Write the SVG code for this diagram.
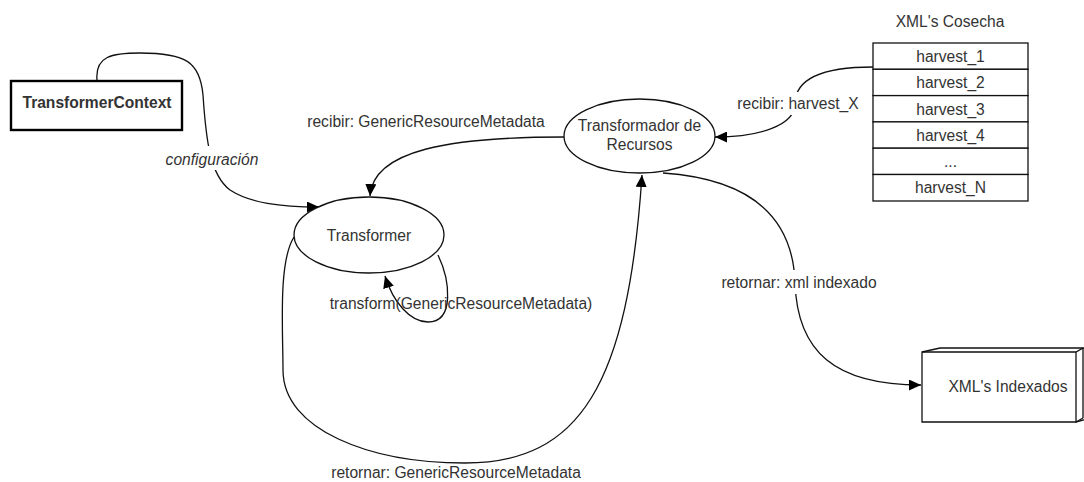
<svg xmlns="http://www.w3.org/2000/svg" width="1084" height="482" viewBox="0 0 1084 482">
<defs>
<style>
text{font-family:"Liberation Sans",Arial,sans-serif;font-size:15.6px;fill:#333;text-anchor:middle}
.ln{fill:none;stroke:#111;stroke-width:1.3}
.shape{fill:#fff;stroke:#111;stroke-width:1.3}
.bg{fill:#fff;stroke:none}
</style>
<marker id="arr" viewBox="0 0 12 11" refX="12" refY="5.5" markerWidth="12" markerHeight="11" orient="auto" markerUnits="userSpaceOnUse">
<path d="M0,0 L12,5.5 L0,11 z" fill="#000"/>
</marker>
</defs>
<rect width="1084" height="482" fill="#fff"/>

<g id="connectors">
<path class="ln" d="M97,80 C95,56 112,53 140,53 C186,53 200,62 203,95 C206,140 210,175 230,190 C250,203 280,207 319,207" marker-end="url(#arr)"/>
<path class="ln" d="M564,137 C450,137 373,150 370,196" marker-end="url(#arr)"/>
<path class="ln" d="M294,237 C278,262 283,330 283,370 C283,430 370,463 465,463 C580,463 628,385 642,175" marker-end="url(#arr)"/>
<path class="ln" d="M438,255 C450,280 455,322 428,322 C410,322 393,302 385,276" marker-end="url(#arr)"/>
<path class="ln" d="M873,67 C805,67 795,88 795,104 C795,125 760,137 715,137" marker-end="url(#arr)"/>
<path class="ln" d="M663,173 C765,180 793,230 795,282 C797,352 835,385 921,385" marker-end="url(#arr)"/>
<rect class="bg" x="160" y="146" width="105" height="24"/>
<rect class="bg" x="735" y="92" width="127" height="23"/>
<rect class="bg" x="719" y="270" width="160" height="24"/>
<text x="212" y="165" font-style="italic">configuración</text>
<text x="426" y="127">recibir: GenericResourceMetadata</text>
<text x="461" y="309">transform(GenericResourceMetadata)</text>
<text x="456" y="478">retornar: GenericResourceMetadata</text>
<text x="798" y="109">recibir: harvest_X</text>
<text x="799" y="288">retornar: xml indexado</text>
</g>

<g id="transformer-context">
<rect x="11" y="81" width="171" height="49" fill="#fff" stroke="#000" stroke-width="2.4"/>
<text x="97" y="108" font-weight="bold" fill="#111">TransformerContext</text>
</g>

<g id="transformer">
<ellipse class="shape" cx="369" cy="235" rx="75" ry="38"/>
<text x="369" y="241">Transformer</text>
</g>

<g id="transformador-recursos">
<ellipse class="shape" cx="639.5" cy="136" rx="75.5" ry="37"/>
<text x="639.5" y="131">Transformador de</text>
<text x="639.5" y="150">Recursos</text>
</g>

<g id="xml-cosecha">
<text x="950" y="27">XML's Cosecha</text>
<rect class="shape" x="873" y="43" width="155" height="26.3"/>
<rect class="shape" x="873" y="69.3" width="155" height="26.3"/>
<rect class="shape" x="873" y="95.6" width="155" height="26.3"/>
<rect class="shape" x="873" y="121.9" width="155" height="26.3"/>
<rect class="shape" x="873" y="148.2" width="155" height="26.3"/>
<rect class="shape" x="873" y="174.5" width="155" height="26.5"/>
<text x="950.5" y="62">harvest_1</text>
<text x="950.5" y="88">harvest_2</text>
<text x="950.5" y="114.5">harvest_3</text>
<text x="950.5" y="141">harvest_4</text>
<text x="950.5" y="167" fill="#999" font-size="12">...</text>
<text x="950.5" y="193">harvest_N</text>
</g>

<g id="xml-indexados">
<path class="shape" d="M922,352 L940,348 L1090,348 L1090,418 L1076,422 L922,422 Z"/>
<path class="ln" d="M922,352 L1076,352 L1083,348 M1076,352 L1076,422 L1083,418 M1083,348 L1083,418"/>
<text x="1008" y="392">XML's Indexados</text>
</g>
</svg>
